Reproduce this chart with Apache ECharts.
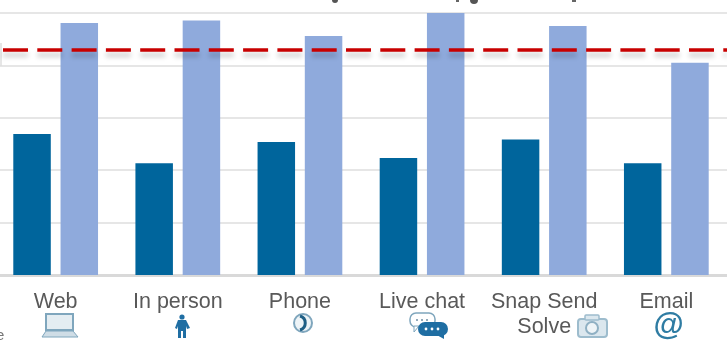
<!DOCTYPE html>
<html><head><meta charset="utf-8">
<style>html,body{margin:0;padding:0;background:#fff}#c{width:727px;height:348px}</style>
<script src="https://cdn.jsdelivr.net/npm/echarts@6/dist/echarts.min.js"></script>
</head><body><div id="c"></div>
<script>
const categories = ['Web','In person','Phone','Live chat','Snap Send\nSolve','Email'];
const darkValues = [53.8,42.7,50.8,44.7,51.7,42.7];
const lightValues = [96.2,97.1,91.2,100,95,81];
const targetValue = 85.9;
const yTicks = [0,20,40,60,80,100];

const chart = echarts.init(document.getElementById('c'),null,{renderer:'canvas'});
const blue='#1f6ea3', pale='#7fa6bd';
const icon=(children)=>({type:'group',silent:true,children});
chart.setOption({
  animation:false,
  backgroundColor:'#fff',
  grid:{left:-5.4,width:732.8,top:13,height:262,containLabel:false,outerBoundsMode:'none'},
  xAxis:{type:'category',data:categories,
    axisLine:{lineStyle:{color:'#d9d9d9',width:3}},axisTick:{show:false},
    axisLabel:{interval:0,color:'#595959',fontFamily:'"Liberation Sans",Arial,sans-serif',fontSize:21.5,lineHeight:25,margin:15,align:'center',verticalAlign:'top'}},
  yAxis:{type:'value',min:yTicks[0],max:yTicks[yTicks.length-1],interval:20,
    axisLabel:{show:false},axisLine:{show:false},axisTick:{show:false},
    splitLine:{lineStyle:{color:'#dedede',width:1.5}}},
  series:[
    {type:'bar',data:darkValues,barWidth:37.5,barGap:'26%',itemStyle:{color:'#00659c'}},
    {type:'bar',data:lightValues,barWidth:37.5,barGap:'26%',itemStyle:{color:'#8faadc'},
      markLine:{silent:true,symbol:'none',label:{show:false},animation:false,z:10,
        data:[{yAxis:targetValue}],
        lineStyle:{color:'#c80000',type:[25,9.3],dashOffset:25.9,width:3.5,shadowColor:'rgba(0,0,0,0.22)',shadowBlur:5,shadowOffsetY:5}}}
  ],
  graphic:[
    {type:'rect',silent:true,shape:{x:0,y:43,width:2,height:23},style:{fill:'#e6e6e6'}},
    {type:'circle',silent:true,shape:{cx:335,cy:0,r:3},style:{fill:'#555'}},
    {type:'rect',silent:true,shape:{x:456,y:0,width:3,height:2},style:{fill:'#666'}},
    {type:'circle',silent:true,shape:{cx:474,cy:0,r:4},style:{fill:'#555'}},
    {type:'rect',silent:true,shape:{x:572,y:0,width:4,height:2},style:{fill:'#666'}},
    {type:'text',silent:true,x:-4,y:336,style:{text:'e',fill:'#777',fontSize:15,fontFamily:'"Liberation Sans",Arial,sans-serif',verticalAlign:'middle'}},
    icon([
      {type:'rect',shape:{x:46,y:314,width:27,height:16},style:{fill:'#e4edf2',stroke:pale,lineWidth:2}},
      {type:'polygon',shape:{points:[[46,331],[73,331],[78,337],[42,337]]},style:{fill:'#cfdde6',stroke:pale,lineWidth:1}}
    ]),
    icon([
      {type:'circle',shape:{cx:182,cy:317,r:2.6},style:{fill:blue}},
      {type:'polygon',shape:{points:[[178,320],[186,320],[190,328],[187,329],[186,326],[186,338],[183,338],[183,331],[181,331],[181,338],[178,338],[178,326],[177,329],[175,328]]},style:{fill:blue}}
    ]),
    icon([
      {type:'circle',shape:{cx:303,cy:323,r:9},style:{fill:'#eef4f7',stroke:pale,lineWidth:2}},
      {type:'bezierCurve',shape:{x1:300,y1:316,cpx1:307,cpy1:318,cpx2:307,cpy2:328,x2:300,y2:330},style:{fill:'none',stroke:'#1f5f85',lineWidth:3}}
    ]),
    icon([
      {type:'rect',shape:{x:410,y:313,width:25,height:14,r:6},style:{fill:'#fff',stroke:pale,lineWidth:1.5}},
      {type:'polygon',shape:{points:[[414,326],[419,326],[414,332]]},style:{fill:'#fff',stroke:pale,lineWidth:1}},
      {type:'circle',shape:{cx:417,cy:320,r:1},style:{fill:'#6f8ea3'}},
      {type:'circle',shape:{cx:422,cy:320,r:1},style:{fill:'#6f8ea3'}},
      {type:'circle',shape:{cx:427,cy:320,r:1},style:{fill:'#6f8ea3'}},
      {type:'rect',shape:{x:418,y:322,width:30,height:14,r:7},style:{fill:blue}},
      {type:'polygon',shape:{points:[[435,334],[444,334],[444,339]]},style:{fill:blue}},
      {type:'circle',shape:{cx:426,cy:329,r:1.4},style:{fill:'#fff'}},
      {type:'circle',shape:{cx:432,cy:329,r:1.4},style:{fill:'#fff'}},
      {type:'circle',shape:{cx:438,cy:329,r:1.4},style:{fill:'#fff'}}
    ]),
    icon([
      {type:'rect',shape:{x:578,y:319,width:29,height:18,r:3},style:{fill:'#dbe7ee',stroke:'#9dbccd',lineWidth:2}},
      {type:'rect',shape:{x:585,y:315,width:14,height:5,r:1},style:{fill:'#dbe7ee',stroke:'#9dbccd',lineWidth:1.5}},
      {type:'circle',shape:{cx:592,cy:328,r:6},style:{fill:'#eef4f7',stroke:'#8fb0c3',lineWidth:2}}
    ]),
    {type:'text',silent:true,x:668,y:326,style:{text:'@',fill:'#2f7ca3',fontSize:31,fontStyle:'italic',fontWeight:'bold',fontFamily:'"Liberation Sans",Arial,sans-serif',align:'center',verticalAlign:'middle'}}
  ]
});
</script></body></html>
